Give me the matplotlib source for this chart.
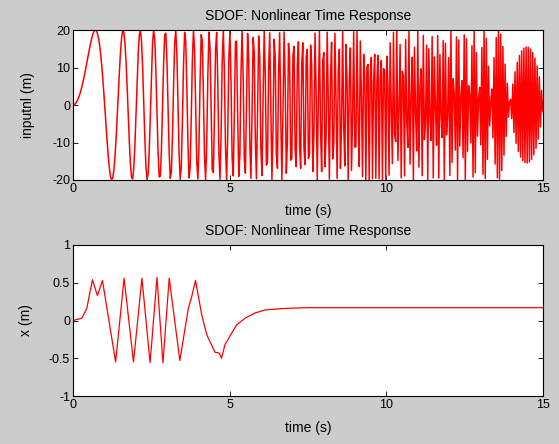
import numpy as np
import matplotlib
matplotlib.use('Agg')
import matplotlib.pyplot as plt

# input: swept sine (amplitude, sweep rate, sample step)
input_amp = 20.0          # m
sweep_rate = 0.9791       # Hz per second, f(t) = sweep_rate * t
sample_dt = 0.035268      # s
t_end = 15.0

# response x(t): vertices
resp_t = [0.0, 0.28, 0.44, 0.62, 0.78, 0.94, 1.36, 1.63, 1.93, 2.20, 2.46, 2.68, 2.87,
          3.07, 3.41, 3.68, 3.79, 3.91, 4.11, 4.27, 4.53, 4.66, 4.74, 4.85, 5.06, 5.22,
          5.49, 5.81, 6.13, 6.77, 7.5, 9.0, 15.0]
resp_x = [0.0, 0.03, 0.16, 0.54, 0.33, 0.53, -0.55, 0.56, -0.55, 0.56, -0.56, 0.57, -0.56,
          0.56, -0.53, 0.16, 0.32, 0.53, 0.07, -0.19, -0.42, -0.43, -0.50, -0.32, -0.17, -0.06,
          0.03, 0.10, 0.14, 0.16, 0.17, 0.17, 0.17]

t_in = np.arange(0.0, t_end + sample_dt / 2, sample_dt)
u_in = input_amp * np.sin(np.pi * sweep_rate * t_in ** 2)

plt.rcParams['font.family'] = ['Liberation Sans', 'DejaVu Sans']
plt.rcParams['axes.unicode_minus'] = False

fig = plt.figure(figsize=(5.59, 4.44), dpi=100, facecolor='#cccccc')
ax1 = fig.add_axes([0.1306, 0.5946, 0.8408, 0.3378])
ax2 = fig.add_axes([0.1306, 0.1081, 0.8408, 0.3401])

ax1.plot(t_in, u_in, color='red', linewidth=1.1)
ax1.set_xlim(0, 15)
ax1.set_ylim(-20, 20)
ax1.set_yticks([-20, -10, 0, 10, 20])
ax1.set_xticks([0, 5, 10, 15])
ax1.set_ylabel('inputnl (m)', fontsize=10)
ax1.yaxis.set_label_coords(-0.081, 0.5)
ax1.set_xlabel('time (s)', fontsize=10, labelpad=7)
ax1.set_title('SDOF: Nonlinear Time Response', fontsize=10, pad=7)

ax2.plot(resp_t, resp_x, color='red', linewidth=0.9)
ax2.set_xlim(0, 15)
ax2.set_ylim(-1, 1)
ax2.set_yticks([-1, -0.5, 0, 0.5, 1])
ax2.set_yticklabels(['-1', '-0.5', '0', '0.5', '1'])
ax2.set_xticks([0, 5, 10, 15])
ax2.set_ylabel('x (m)', fontsize=10)
ax2.yaxis.set_label_coords(-0.085, 0.5)
ax2.set_xlabel('time (s)', fontsize=10, labelpad=7)
ax2.set_title('SDOF: Nonlinear Time Response', fontsize=10, pad=7)

for ax in (ax1, ax2):
    ax.set_facecolor('white')
    ax.tick_params(direction='in', length=3.5, width=0.6, top=True, right=True, labelsize=9, pad=2)
    for s in ax.spines.values():
        s.set_linewidth(0.8)

fig.savefig('out.png', dpi=100, facecolor=fig.get_facecolor())
